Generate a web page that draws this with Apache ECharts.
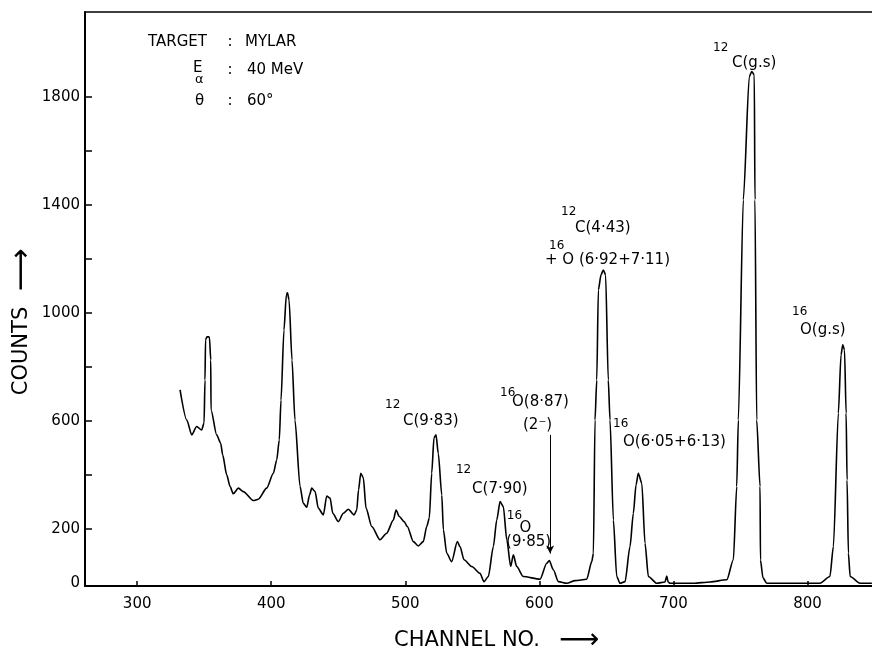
<!DOCTYPE html>
<html><head><meta charset="utf-8">
<script src="https://cdn.jsdelivr.net/npm/echarts@6/dist/echarts.min.js"></script>
<style>html,body{margin:0;padding:0;background:#fff}#c{width:872px;height:653px}</style>
</head><body><div id="c"></div>
<script>
// ---- data ----
const channels = [332, 337, 340.7, 344.4, 348.1, 349.9, 350.6, 351.0, 352.1, 353.9,
  354.9, 355.1, 359.3, 362.3, 363.8, 366.8, 369.3, 371.7, 375.5, 379.2,
  386.6, 390.4, 396.6, 401.6, 404.1, 406.0, 407.3, 409.5, 411.3, 412.1,
  413.3, 415.5, 417.7, 421.5, 423.9, 426.5, 428.6, 430.2, 432.7, 435.1,
  438.9, 441.4, 443.9, 445.9, 450.0, 453.8, 457.5, 461.8, 463.8, 465.1,
  466.8, 468.7, 470.7, 475.0, 481.1, 486.1, 491.1, 493.1, 495.5, 499.1,
  501.5, 506.0, 509.7, 513.4, 516.0, 517.9, 519.7, 521.4, 522.9, 524.6,
  527.2, 528.4, 530.9, 534.6, 538.8, 540.8, 543.8, 549.6, 555.7, 558.7,
  561.9, 565.7, 568.2, 570.7, 573.1, 575.7, 578.6, 580.6, 583.1, 588.0,
  600.5, 605.5, 607.4, 610.4, 614.2, 620.4, 626.6, 635.3, 639.1, 640.3,
  641.5, 642.8, 644.0, 646.0, 647.7, 649.4, 651.4, 652.7, 655.2, 657.7,
  660.2, 663.9, 667.6, 670.1, 672.1, 673.8, 676.4, 678.8, 681.3, 687.5,
  693.7, 695.0, 696.0, 697.5, 714.9, 727.3, 739.8, 744.7, 747.2, 748.4,
  752.1, 756.6, 758.4, 760.3, 760.8, 762.1, 764.6, 764.9, 766.8,
  769.6, 779.5, 809.2, 816.7, 819.3, 823.0, 825.0, 826.3, 827.6,
  828.8, 829.5, 830.5, 831.8, 839.2, 848.0];
const counts = [715, 604, 549, 580, 567, 593, 752, 900, 912, 911,
  826, 641, 549, 518, 475, 401, 358, 331, 352, 339,
  306, 311, 352, 407, 456, 530, 678, 937, 1067, 1074,
  1048, 826, 604, 358, 296, 281, 327, 352, 339, 278,
  253, 323, 315, 259, 228, 259, 274, 253, 271, 345,
  407, 390, 278, 210, 161, 185, 234, 271, 247, 228,
  210, 154, 138, 154, 210, 241, 407, 538, 549, 481,
  327, 198, 111, 80, 154, 136, 87, 62, 37, 6,
  25, 136, 234, 302, 284, 161, 62, 105, 62, 25,
  15, 74, 84, 50, 6, 0, 10, 15, 80, 111,
  604, 752, 1085, 1141, 1159, 1141, 752, 604, 234, 25,
  0, 6, 136, 259, 364, 407, 370, 148, 25, 0,
  5, 27, 5, 0, 0, 5, 13, 87, 358, 604,
  1418, 1874, 1893, 1880, 1418, 604, 358, 86, 20,
  0, 0, 0, 25, 136, 629, 845, 882, 863,
  629, 382, 111, 25, 0, 0];

const xTicks = [300, 400, 500, 600, 700, 800];
const yTickLabels = [0, 200, 600, 1000, 1400, 1800];
const yTicks = [200, 400, 600, 800, 1000, 1200, 1400, 1600, 1800];

// peak annotations (anchor = left/middle of text, in data units)
const mainLabels = ["C(9·83)", "C(7·90)", "O", "(9·85)", "O(8·87)", "(2⁻)", "C(4·43)", "+ O (6·92+7·11)", "O(6·05+6·13)", "C(g.s)", "O(g.s)"];
const mainLabelX = [498.3, 549.8, 585.1, 575.2, 579.6, 587.8, 626.6, 604.2, 662.4, 743.7, 794.4];
const mainLabelY = [601, 349, 203, 151, 671, 586, 1314, 1196, 523, 1925, 937];
const supLabels = ["12", "12", "16", "16", "12", "16", "16", "12", "16"];
const supLabelX = [484.9, 537.8, 575.7, 570.7, 616.2, 607.2, 655.0, 729.5, 788.5];
const supLabelY = [660, 419, 249, 704, 1374, 1248, 588, 1980, 1004];
const pointerFrom = [608, 549];
const pointerTo = [608, 110];

// ---- chart ----
const X_MIN = 261.1, X_MAX = 848.1, Y_MIN = -10, Y_MAX = 2113;
const FONT = '"DejaVu Sans", sans-serif';
const chart = echarts.init(document.getElementById('c'), null, {renderer: 'canvas'});

function txt(x, y, text, size, align, extra) {
  return Object.assign({
    type: 'text', x: x, y: y, silent: true,
    style: {text: text, font: size + 'px ' + FONT, fill: '#000', align: align || 'left', verticalAlign: 'middle',
            textAlign: align || 'left', textVerticalAlign: 'middle'}
  }, extra || {});
}

const option = {
  animation: false,
  backgroundColor: '#fff',
  textStyle: {fontFamily: FONT, color: '#000'},
  grid: {left: 85, right: 0, top: 12, bottom: 67, containLabel: false},
  xAxis: [{
    type: 'value', min: X_MIN, max: X_MAX,
    axisLine: {show: true, onZero: false, lineStyle: {color: '#000', width: 2}},
    axisTick: {show: true, inside: true, length: 5, customValues: xTicks, lineStyle: {color: '#000', width: 1.5}},
    axisLabel: {customValues: xTicks, fontSize: 15, color: '#000', margin: 11, fontFamily: FONT,
                formatter: v => String(v)},
    splitLine: {show: false}
  }, {
    type: 'value', position: 'top', min: X_MIN, max: X_MAX,
    axisLine: {show: true, onZero: false, lineStyle: {color: '#000', width: 1.5}},
    axisTick: {show: false}, axisLabel: {show: false}, splitLine: {show: false}
  }],
  yAxis: {
    type: 'value', min: Y_MIN, max: Y_MAX,
    axisLine: {show: true, onZero: false, lineStyle: {color: '#000', width: 2}},
    axisTick: {show: true, inside: true, length: 7, customValues: yTicks, lineStyle: {color: '#000', width: 1.5}},
    axisLabel: {customValues: yTickLabels, fontSize: 15, color: '#000', margin: 5, fontFamily: FONT,
                formatter: v => String(v)},
    splitLine: {show: false}
  },
  series: [{
    type: 'line',
    data: channels.map((c, i) => [c, counts[i]]),
    symbol: 'none', smooth: 0.25, smoothMonotone: 'x',
    lineStyle: {color: '#000', width: 1.6},
    silent: true,
    markLine: {
      silent: true, symbol: ['none', 'arrow'], symbolSize: [6, 8],
      label: {show: false},
      lineStyle: {color: '#000', width: 1, type: 'solid'},
      data: [[{coord: pointerFrom}, {coord: pointerTo}]]
    }
  }, {
    type: 'scatter', symbolSize: 0, silent: true, z: 5,
    itemStyle: {color: '#000', opacity: 1},
    data: mainLabels.map((t, i) => ({value: [mainLabelX[i], mainLabelY[i]],
      label: {formatter: t, color: '#000', opacity: 1}})),
    label: {show: true, position: 'right', distance: 0, align: 'left', verticalAlign: 'middle',
            fontSize: 15, color: '#000', opacity: 1, textBorderWidth: 0, fontFamily: FONT}
  }, {
    type: 'scatter', symbolSize: 0, silent: true, z: 5,
    itemStyle: {color: '#000', opacity: 1},
    data: supLabels.map((t, i) => ({value: [supLabelX[i], supLabelY[i]],
      label: {formatter: t, color: '#000', opacity: 1}})),
    label: {show: true, position: 'right', distance: 0, align: 'left', verticalAlign: 'middle',
            fontSize: 12, color: '#000', opacity: 1, textBorderWidth: 0, fontFamily: FONT}
  }],
  graphic: [
    txt(148, 42, 'TARGET', 15),
    txt(230, 42, ':', 15, 'center'),
    txt(245, 42, 'MYLAR', 15),
    txt(193, 68, 'E', 15),
    txt(195, 80, 'α', 13),
    txt(230, 70, ':', 15, 'center'),
    txt(247, 70, '40 MeV', 15),
    txt(195, 101, 'θ', 15),
    txt(230, 101, ':', 15, 'center'),
    txt(247, 101, '60°', 15),
    txt(22, 351, 'COUNTS', 21, 'center', {rotation: Math.PI / 2}),
    txt(22, 270, '⟶', 30, 'center', {rotation: Math.PI / 2}),
    txt(467, 641, 'CHANNEL NO.', 21, 'center'),
    txt(579, 641, '⟶', 28, 'center')
  ]
};
chart.setOption(option);
</script>
</body></html>
